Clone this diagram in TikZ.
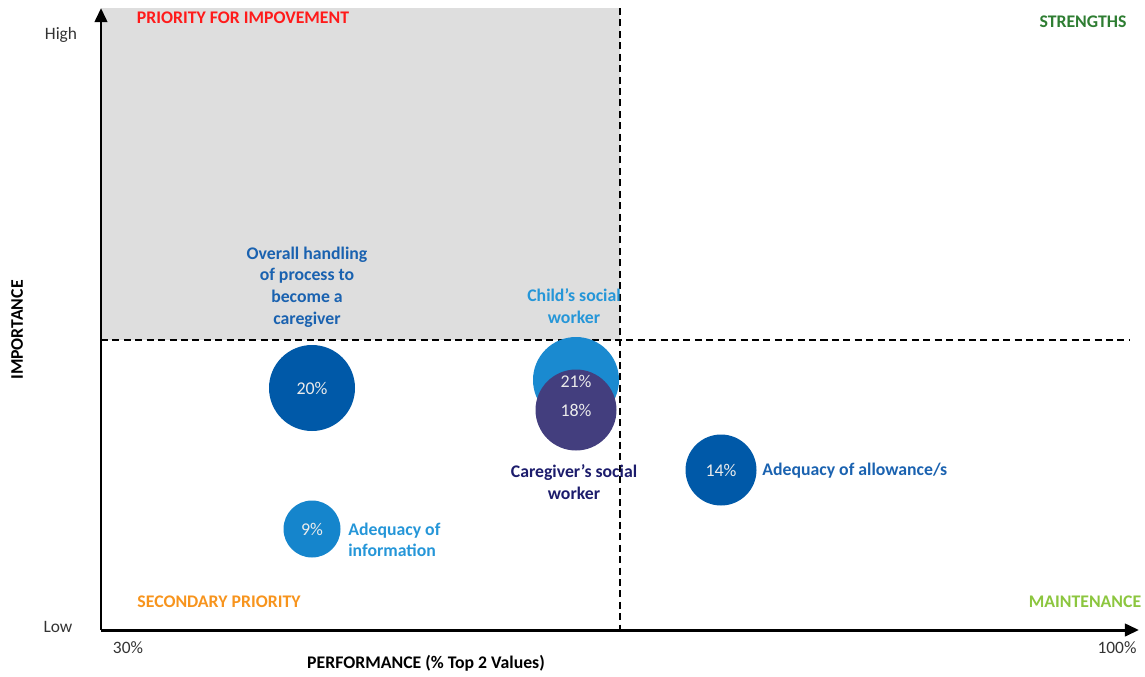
\documentclass[tikz,border=0pt]{standalone}
\usepackage{fontspec}
\setmainfont{Carlito}
\usepackage{tikz}
\usetikzlibrary{arrows.meta, positioning}

\definecolor{quadgray}{HTML}{DEDEDE}
\definecolor{bubdark}{HTML}{0059A8}
\definecolor{bublight}{HTML}{1A8AD0}
\definecolor{bubnavy}{HTML}{433E7E}
\definecolor{bubsky}{HTML}{1585CC}
\definecolor{txtblue}{HTML}{1A62B0}
\definecolor{txtsky}{HTML}{2596D8}
\definecolor{txtnavy}{HTML}{1C1C6C}
\definecolor{prioRed}{HTML}{FF1A1A}
\definecolor{strGreen}{HTML}{2E7D32}
\definecolor{secOrange}{HTML}{F7941D}
\definecolor{mntGreen}{HTML}{8CC63F}
\definecolor{axistext}{HTML}{333333}

\tikzset{
	bubble/.style={circle, inner sep=0pt, text=white!92!black, font=\fontsize{10.2}{12}\selectfont},
	quadlabel/.style={font=\fontsize{10.1}{12}\selectfont\bfseries},
	itemlabel/.style={font=\fontsize{10.1}{12.3}\selectfont\bfseries, align=center, inner sep=0pt},
	ticklabel/.style={font=\fontsize{9.9}{11.5}\selectfont, text=axistext},
	guide/.style={dash pattern=on 4pt off 2.5pt, line width=0.6pt},
	axisline/.style={line width=1.7pt, -{Triangle[length=8pt,width=7pt]}}
}

\begin{document}
\begin{tikzpicture}[x=0.02cm, y=-0.02cm]
		
		\useasboundingbox (0,0) rectangle (1145,676);
		
		%//corners of the grid
		\coordinate (origin) at (101,630);
		\coordinate (ytip) at (101,8);
		\coordinate (xtip) at (1139,630);
		\coordinate (vtop) at (620,8);
		\coordinate (vbot) at (620,630);
		\coordinate (hleft) at (101,340);
		\coordinate (hright) at (1130,340);
		
		\fill [quadgray] (101,8) rectangle (620,340);
		
		\draw [guide] (vtop) -- (vbot);
		\draw [guide] (hleft) -- (hright);
		
		\draw [axisline] (origin) -- (ytip);
		\draw [axisline] (origin) -- (xtip);
		
		%//quadrant names
		\node [quadlabel, text=prioRed] (prio) at (243,18) {PRIORITY FOR IMPOVEMENT};
		\node [quadlabel, text=strGreen] (str) at (1083,22) {STRENGTHS};
		\node [quadlabel, text=secOrange] (sec) at (219,602) {SECONDARY PRIORITY};
		\node [quadlabel, text=mntGreen] (mnt) at (1085,602) {MAINTENANCE};
		
		%//axis texts
		\node [ticklabel] (high) at (61,35) {High};
		\node [ticklabel] (low) at (58,627) {Low};
		\node [ticklabel] (xmin) at (128,648) {30\%};
		\node [ticklabel] (xmax) at (1117,648) {100\%};
		\node [quadlabel, text=black] (xname) at (426,663) {PERFORMANCE (\% Top 2 Values)};
		\node [quadlabel, text=black, rotate=90] (yname) at (17,330) {IMPORTANCE};
		
		%//bubbles
		\node [bubble, fill=bubdark, minimum size=86*0.02cm] (overall) at (312,388) {20\%};
		\node [bubble, fill=bublight, minimum size=86*0.02cm] (child) at (576,380) {};
		\node [bubble, fill=bubnavy, minimum size=81*0.02cm] (carer) at (576,410) {18\%};
		\node [text=white!92!black, font=\fontsize{10.2}{12}\selectfont] (childpct) at (576,381) {21\%};
		\node [bubble, fill=bubdark, minimum size=71*0.02cm] (allow) at (721,470) {14\%};
		\node [bubble, fill=bubsky, minimum size=57*0.02cm] (info) at (312,529) {9\%};
		
		%//bubble names
		\node [itemlabel, text=txtblue] (overalltxt) at (307,287) {Overall handling\\of process to\\become a\\caregiver};
		\node [itemlabel, text=txtsky] (childtxt) at (574,306) {Child’s social\\worker};
		\node [itemlabel, text=txtnavy] (carertxt) at (574,482) {Caregiver’s social\\worker};
		\node [itemlabel, text=txtblue, anchor=west] (allowtxt) at (762,471) {Adequacy of allowance/s};
		\node [itemlabel, text=txtsky, anchor=west, align=left] (infotxt) at (348,540) {Adequacy of\\information};
		
\end{tikzpicture}
\end{document}
